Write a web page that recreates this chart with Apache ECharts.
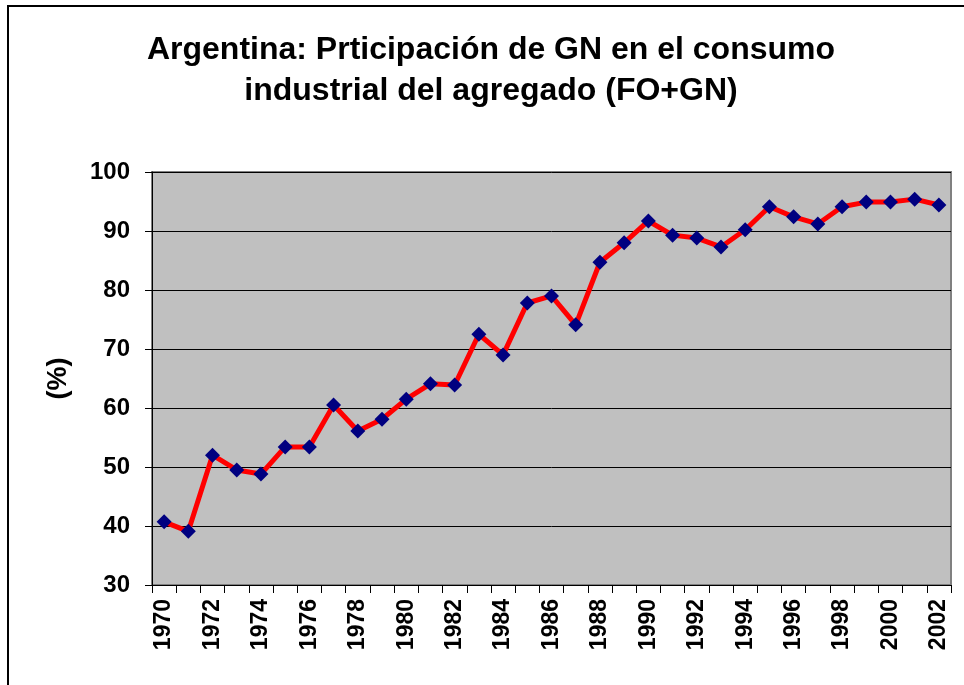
<!DOCTYPE html>
<html>
<head>
<meta charset="utf-8">
<script src="https://cdn.jsdelivr.net/npm/echarts@6/dist/echarts.min.js"></script>
<style>
  html, body { margin: 0; padding: 0; background: #fff; }
  #chart { width: 964px; height: 685px; }
</style>
</head>
<body>
<div id="chart"></div>
<script>
    var years = [];
    for (var y = 1970; y <= 2002; y++) { years.push(String(y)); }
    // participación de GN (%)
    var gnShare = [40.7, 39.1, 52.0, 49.5, 48.8, 53.4, 53.4, 60.5, 56.1, 58.1,
                   61.5, 64.1, 63.9, 72.5, 69.0, 77.8, 79.0, 74.1, 84.7, 88.0,
                   91.7, 89.3, 88.8, 87.3, 90.2, 94.1, 92.4, 91.2, 94.1, 94.9,
                   94.9, 95.4, 94.4];
    var yTicks = [30, 40, 50, 60, 70, 80, 90, 100];

    var myChart = echarts.init(document.getElementById('chart'));
    var option = {
        backgroundColor: '#fff',
        animation: false,
        textStyle: { fontFamily: 'Liberation Sans, Arial, sans-serif' },
        title: {
            text: 'Argentina: Prticipación de GN en el consumo\nindustrial del agregado (FO+GN)',
            left: 486,
            top: 25,
            textAlign: 'center',
            textStyle: {
                fontSize: 32,
                fontWeight: 'bold',
                color: '#000',
                lineHeight: 41
            }
        },
        graphic: [
            {
                type: 'rect',
                shape: { x: 8, y: 6, width: 1000, height: 1000 },
                style: { fill: 'none', stroke: '#000', lineWidth: 2 },
                silent: true
            }
        ],
        grid: {
            left: 152,
            right: 13,
            top: 172,
            bottom: 100,
            show: true,
            backgroundColor: '#c0c0c0',
            borderColor: '#808080',
            borderWidth: 2
        },
        xAxis: {
            type: 'category',
            data: years,
            boundaryGap: true,
            axisLine: { show: true, lineStyle: { color: '#000', width: 1 } },
            axisTick: { show: true, interval: 0, length: 8, lineStyle: { color: '#000' } },
            axisLabel: {
                interval: 1,
                rotate: 90,
                margin: 14,
                fontSize: 23,
                fontWeight: 'bold',
                color: '#000'
            },
            splitLine: { show: false }
        },
        yAxis: {
            type: 'value',
            min: yTicks[0],
            max: yTicks[yTicks.length - 1],
            interval: 10,
            name: '(%)',
            nameLocation: 'middle',
            nameGap: 80,
            nameRotate: 90,
            nameTextStyle: { fontSize: 27, fontWeight: 'bold', color: '#000' },
            axisLine: { show: true, lineStyle: { color: '#000', width: 1 } },
            axisTick: { show: true, inside: false, length: 7, lineStyle: { color: '#000' } },
            axisLabel: {
                margin: 22,
                fontSize: 24,
                fontWeight: 'bold',
                color: '#000'
            },
            splitLine: { show: true, lineStyle: { color: '#000', width: 1 } }
        },
        series: [
            {
                name: 'GN',
                type: 'line',
                data: gnShare,
                symbol: 'diamond',
                symbolSize: 15,
                itemStyle: { color: '#000080' },
                lineStyle: { color: '#ff0000', width: 5 },
                z: 3
            }
        ]
    };
    myChart.setOption(option);
</script>
</body>
</html>
